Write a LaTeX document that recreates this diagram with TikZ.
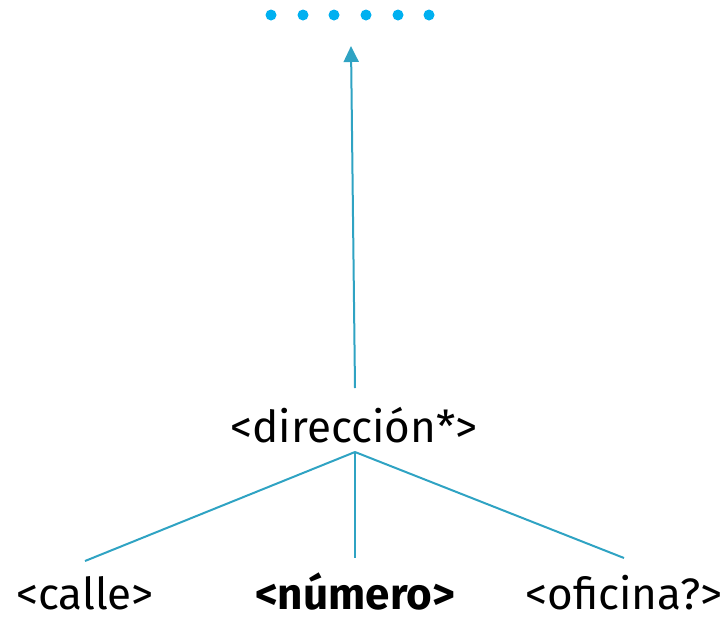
\documentclass[tikz,border=0pt]{standalone}
\usepackage{fontspec}
\setmainfont{Fira Sans}
\usetikzlibrary{arrows.meta}
\definecolor{linecol}{HTML}{2FA3C3}
\definecolor{dotcol}{HTML}{00B0F0}
\tikzset{
  lbl/.style={inner sep=0pt, font=\fontsize{44}{46}\selectfont, anchor=base},
  conn/.style={draw=linecol, line width=2pt},
  dotnode/.style={circle, fill=dotcol, inner sep=0pt, minimum size=11pt}
}
\begin{document}
\begin{tikzpicture}[x=1pt,y=-1pt]
\useasboundingbox (0,0) rectangle (728,619);
\foreach \i/\xx in {1/271,2/303,3/334,4/366,5/398,6/429}{
  \node[dotnode] (d\i) at (\xx,15) {};
}
\coordinate (tip) at (351,46);
\node[lbl] (dir) at (354,442) {<dirección*>};
\node[lbl] (calle) at (85,609) {<calle>};
\node[lbl] (num) at (355,609) {\bfseries <número>};
\node[lbl] (ofi) at (624,609) {<oficina?>};
\coordinate (up) at (355,388);
\coordinate (apex) at (355,452);
\coordinate (ec) at (85,561);
\coordinate (en) at (355,558);
\coordinate (eo) at (624,558);
\draw[conn, -{Triangle[width=15pt,length=16pt]}] (up) -- (tip);
\draw[conn] (apex) -- (ec);
\draw[conn] (apex) -- (en);
\draw[conn] (apex) -- (eo);
\end{tikzpicture}
\end{document}
